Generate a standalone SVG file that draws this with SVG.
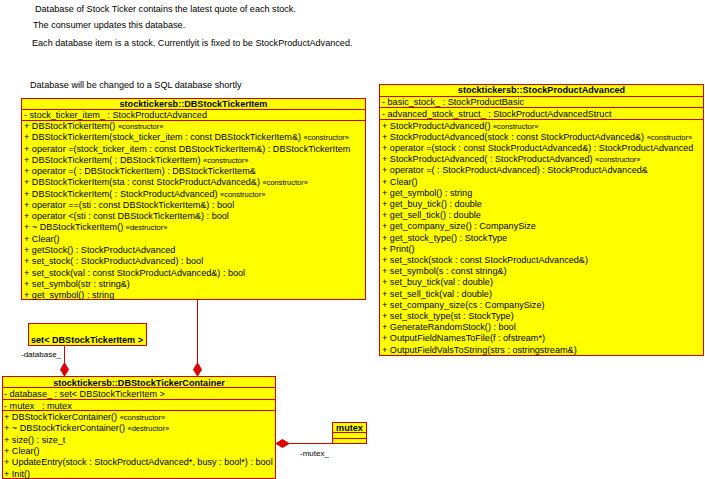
<svg xmlns="http://www.w3.org/2000/svg" width="705" height="479" viewBox="0 0 705 479">
  <style>
    text { font-family: "Liberation Sans", Arial, sans-serif; font-size: 9.1px; fill: #000; }
    .hdr { font-weight: bold; text-anchor: middle; }
    .bold { font-weight: bold; }
    .st { font-size: 7.5px; }
    .lbl { font-size: 8px; }
    .box { fill: #FFFF00; stroke: #CC0000; stroke-width: 1; }
    .sep { stroke: #CC0000; stroke-width: 1; }
    .conn { stroke: #CC0000; stroke-width: 1; fill: none; }
    .dia { fill: #E00000; stroke: #CC0000; stroke-width: 1; }
  </style>

  <!-- free notes -->
  <g id="notes">
    <text x="35" y="12">Database of Stock Ticker contains the latest quote of each stock.</text>
    <text x="33" y="28">The consumer updates this database.</text>
    <text x="32" y="46">Each database item is a stock. Currentlyit is fixed to be StockProductAdvanced.</text>
    <text x="30" y="88">Database will be changed to a SQL database shortly</text>
  </g>

  <!-- connectors: compositions (filled diamonds at the owner) -->
  <g id="connectors">
    <line class="conn" x1="64.5" y1="346" x2="64.5" y2="364"/>
    <polygon class="dia" points="64.5,363 68.5,369.5 64.5,376 60.5,369.5"/>
    <line class="conn" x1="197.5" y1="300" x2="197.5" y2="364"/>
    <polygon class="dia" points="197.5,363 201.5,369.5 197.5,376 193.5,369.5"/>
    <line class="conn" x1="288" y1="443.5" x2="332" y2="443.5"/>
    <polygon class="dia" points="276,443.5 282.5,439.5 289,443.5 282.5,447.5"/>
    <text class="lbl" x="21" y="357">-database_</text>
    <text class="lbl" x="300" y="456">-mutex_</text>
  </g>

  <!-- DBStockTickerItem -->
  <g id="DBStockTickerItem">
    <rect class="box" x="21.5" y="98.5" width="344" height="201"/>
    <line class="sep" x1="21.5" y1="109.5" x2="365.5" y2="109.5"/>
    <line class="sep" x1="21.5" y1="120.5" x2="365.5" y2="120.5"/>
    <text class="hdr" x="193.5" y="107">stocktickersb::DBStockTickerItem</text>
    <text x="24" y="118">- stock_ticker_item_ : StockProductAdvanced</text>
    <text x="24" y="129">+ DBStockTickerItem() <tspan class="st">«constructor»</tspan></text>
    <text x="24" y="140.3">+ DBStockTickerItem(stock_ticker_item : const DBStockTickerItem&amp;) <tspan class="st">«constructor»</tspan></text>
    <text x="24" y="151.5">+ operator =(stock_ticker_item : const DBStockTickerItem&amp;) : DBStockTickerItem</text>
    <text x="24" y="162.8">+ DBStockTickerItem( : DBStockTickerItem) <tspan class="st">«constructor»</tspan></text>
    <text x="24" y="174.1">+ operator =( : DBStockTickerItem) : DBStockTickerItem&amp;</text>
    <text x="24" y="185.4">+ DBStockTickerItem(sta : const StockProductAdvanced&amp;) <tspan class="st">«constructor»</tspan></text>
    <text x="24" y="196.6">+ DBStockTickerItem( : StockProductAdvanced) <tspan class="st">«constructor»</tspan></text>
    <text x="24" y="207.9">+ operator ==(sti : const DBStockTickerItem&amp;) : bool</text>
    <text x="24" y="219.2">+ operator &lt;(sti : const DBStockTickerItem&amp;) : bool</text>
    <text x="24" y="230.4">+ ~ DBStockTickerItem() <tspan class="st">«destructor»</tspan></text>
    <text x="24" y="241.7">+ Clear()</text>
    <text x="24" y="253">+ getStock() : StockProductAdvanced</text>
    <text x="24" y="264.2">+ set_stock( : StockProductAdvanced) : bool</text>
    <text x="24" y="275.5">+ set_stock(val : const StockProductAdvanced&amp;) : bool</text>
    <text x="24" y="286.8">+ set_symbol(str : string&amp;)</text>
    <text x="24" y="298">+ get_symbol() : string</text>
  </g>

  <!-- StockProductAdvanced -->
  <g id="StockProductAdvanced">
    <rect class="box" x="379.5" y="84.5" width="324" height="271"/>
    <line class="sep" x1="379.5" y1="96.5" x2="703.5" y2="96.5"/>
    <line class="sep" x1="379.5" y1="107.5" x2="703.5" y2="107.5"/>
    <line class="sep" x1="379.5" y1="119.5" x2="703.5" y2="119.5"/>
    <text class="hdr" x="541.5" y="93">stocktickersb::StockProductAdvanced</text>
    <text x="382" y="105">- basic_stock_ : StockProductBasic</text>
    <text x="382" y="116.5">- advanced_stock_struct_ : StockProductAdvancedStruct</text>
    <text x="382" y="128.5">+ StockProductAdvanced() <tspan class="st">«constructor»</tspan></text>
    <text x="382" y="139.7">+ StockProductAdvanced(stock : const StockProductAdvanced&amp;) <tspan class="st">«constructor»</tspan></text>
    <text x="382" y="150.9">+ operator =(stock : const StockProductAdvanced&amp;) : StockProductAdvanced</text>
    <text x="382" y="162.1">+ StockProductAdvanced( : StockProductAdvanced) <tspan class="st">«constructor»</tspan></text>
    <text x="382" y="173.3">+ operator =( : StockProductAdvanced) : StockProductAdvanced&amp;</text>
    <text x="382" y="184.5">+ Clear()</text>
    <text x="382" y="195.7">+ get_symbol() : string</text>
    <text x="382" y="206.9">+ get_buy_tick() : double</text>
    <text x="382" y="218.1">+ get_sell_tick() : double</text>
    <text x="382" y="229.3">+ get_company_size() : CompanySize</text>
    <text x="382" y="240.5">+ get_stock_type() : StockType</text>
    <text x="382" y="251.7">+ Print()</text>
    <text x="382" y="262.9">+ set_stock(stock : const StockProductAdvanced&amp;)</text>
    <text x="382" y="274.1">+ set_symbol(s : const string&amp;)</text>
    <text x="382" y="285.3">+ set_buy_tick(val : double)</text>
    <text x="382" y="296.5">+ set_sell_tick(val : double)</text>
    <text x="382" y="307.7">+ set_company_size(cs : CompanySize)</text>
    <text x="382" y="318.9">+ set_stock_type(st : StockType)</text>
    <text x="382" y="330.1">+ GenerateRandomStock() : bool</text>
    <text x="382" y="341.3">+ OutputFieldNamesToFile(f : ofstream*)</text>
    <text x="382" y="352.5">+ OutputFieldValsToString(strs : ostringstream&amp;)</text>
  </g>

  <!-- set< DBStockTickerItem > -->
  <g id="SetDBStockTickerItem">
    <rect class="box" x="28.5" y="323.5" width="118" height="22"/>
    <text class="bold" x="31" y="343">set&lt; DBStockTickerItem &gt;</text>
  </g>

  <!-- DBStockTickerContainer -->
  <g id="DBStockTickerContainer">
    <rect class="box" x="2.5" y="376.5" width="273" height="102"/>
    <line class="sep" x1="2.5" y1="387.5" x2="275.5" y2="387.5"/>
    <line class="sep" x1="2.5" y1="399.5" x2="275.5" y2="399.5"/>
    <line class="sep" x1="2.5" y1="410.5" x2="275.5" y2="410.5"/>
    <text class="hdr" x="139" y="385.5">stocktickersb::DBStockTickerContainer</text>
    <text x="4" y="397">- database_ : set&lt; DBStockTickerItem &gt;</text>
    <text x="4" y="408.5">- mutex_ : mutex</text>
    <text x="4" y="420">+ DBStockTickerContainer() <tspan class="st">«constructor»</tspan></text>
    <text x="4" y="431.3">+ ~ DBStockTickerContainer() <tspan class="st">«destructor»</tspan></text>
    <text x="4" y="442.6">+ size() : size_t</text>
    <text x="4" y="453.9">+ Clear()</text>
    <text x="4" y="465.2">+ UpdateEntry(stock : StockProductAdvanced*, busy : bool*) : bool</text>
    <text x="4" y="476.5">+ Init()</text>
  </g>

  <!-- mutex -->
  <g id="mutex">
    <rect class="box" x="332.5" y="422.5" width="34" height="21"/>
    <line class="sep" x1="332.5" y1="432.5" x2="366.5" y2="432.5"/>
    <line class="sep" x1="332.5" y1="438.5" x2="366.5" y2="438.5"/>
    <text class="hdr" x="349.5" y="431">mutex</text>
  </g>
</svg>
